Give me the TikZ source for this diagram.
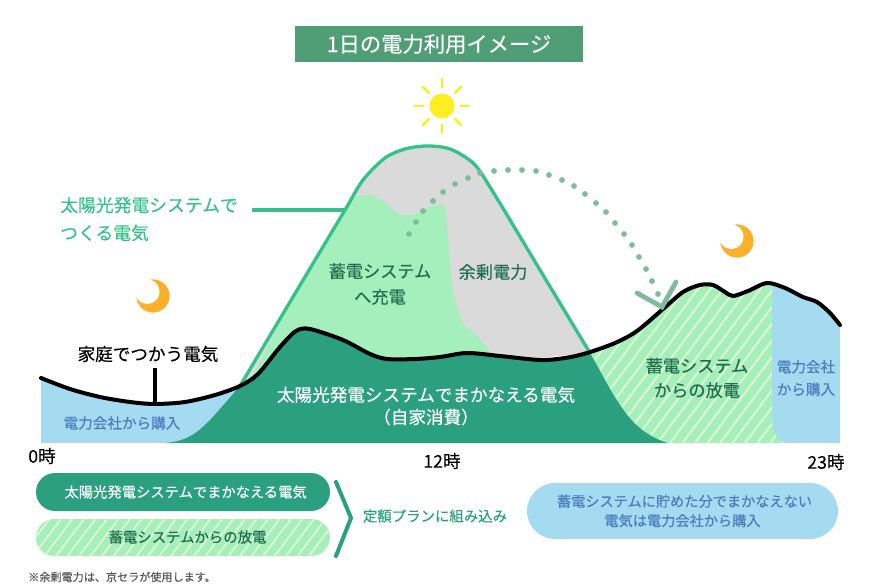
\documentclass[tikz,border=0pt]{standalone}
\usepackage{fontspec}
\setmainfont{Noto Sans CJK JP}[FakeBold=0.3]
\usetikzlibrary{calc}
\definecolor{cdark}{HTML}{2AA07F}
\definecolor{clight}{HTML}{A5EFBD}
\definecolor{cstripe}{HTML}{DDF7C8}
\definecolor{cblue}{HTML}{A5DBF0}
\definecolor{cgray}{HTML}{DADADA}
\definecolor{cline}{HTML}{35C28A}
\definecolor{ctitle}{HTML}{4F9E75}
\definecolor{cdot}{HTML}{7FBC9A}
\definecolor{ctxtg}{HTML}{1E6E50}
\definecolor{ctxtb}{HTML}{4A7CBE}
\definecolor{cmoon}{HTML}{FBB02A}
\definecolor{csun}{HTML}{FCEE21}
\newcommand{\px}[1]{\fontsize{\fpeval{#1*0.75}}{\fpeval{#1*0.95}}\selectfont}
\tikzset{
 lbl/.style={inner sep=0pt,align=center},
 chart/.style={lbl,font=\px{17.6}},
 small/.style={lbl,font=\px{14.6}},
 ray/.style={csun,line width=2.6*0.75pt,line cap=round},
}
\newcommand{\demandpts}{(41,378)(70,389)(100,397)(130,402)(155,404)(185,402)(215,395)(240,386)(258,374)(280,347)(296,331)(310,329)(343,340)(370,354)(387,359)(415,359)(440,357)(467,353)(500,356)(540,360)(565,358)(587,353)(615,343)(637,331)(663,309)(683,292)(700,285)(713,285)(725,292)(733,296)(748,291)(767,283)(785,288)(803,297)(817,302)(830,313)(840,325)}
\newcommand{\mountainpts}{(240,386)(290,302)(345,210)(363,180)(385,158)(405,149)(427,146)(450,149)(473,163)(490,187)(540,270)(590,353)}
\begin{document}
\begin{tikzpicture}[x=0.75pt,y=-0.75pt]
\useasboundingbox (0,0) rectangle (879,588);
\fill[white] (0,0) rectangle (879,588);
% title
\node[fill=ctitle,minimum width=288*0.75pt,minimum height=36*0.75pt,inner sep=0pt,text=white,font=\px{21.3}] (title) at (439,44) {1日の電力利用イメージ};
% sun
\fill[csun] (442,106) circle (12.5);
\foreach \a in {0,45,...,315} \draw[ray] ($(442,106)+(\a:18.5)$) -- ($(442,106)+(\a:27)$);
% moons
\foreach \mx/\my in {153/296,737/241}{
 \fill[cmoon] (\mx,\my) circle (16.6);
 \fill[white] (\mx-5.7,\my-4.3) circle (12.3);
}
% mountain
\fill[cgray] plot[smooth,tension=.5] coordinates {\mountainpts} -- cycle;
\begin{scope}
\clip plot[smooth,tension=.5] coordinates {\mountainpts} -- cycle;
\fill[clight] (240,400) -- (340,205) -- plot[smooth,tension=.5] coordinates {(345,200)(358,196)(370,195)(383,201)(397,213)(413,215)(428,208)(440,205)(445,208)(448,235)(450,263)(453,290)(457,307)(464,325)(473,332)(483,343)(490,353)(495,380)} -- cycle;
\end{scope}
% under the demand curve
\begin{scope}
\clip (41,443) -- plot[smooth,tension=.5] coordinates {\demandpts} -- (840,443) -- cycle;
\fill[cblue] (41,300) rectangle (260,443);
\fill[clight] (560,270) rectangle (790,443);
\begin{scope}
\clip (560,270) rectangle (790,443);
\foreach \k in {0,1,...,30}
 \draw[cstripe,line width=1.5pt] (470+12.5*\k,443) -- ++(135,-180);
\end{scope}
\fill[cblue] (772,270) -- (772,418) .. controls (772,432) and (778,443) .. (790,443) -- (840,443) -- (840,270) -- cycle;
\fill[cdark] (165,443) .. controls (190,441) and (200,430) .. (212,418) -- (240,386) -- (260,300) -- (585,300) -- (590,353) .. controls (600,370) and (612,395) .. (625,412) .. controls (635,426) and (650,438) .. (668,443) -- cycle;
\end{scope}
% outlines
\draw[cline,line width=2.5pt,line join=round] plot[smooth,tension=.5] coordinates {\mountainpts};
\coordinate (mleft) at (345,210);
\coordinate (lblend) at (252,210);
\draw[cline,line width=2.5pt] (lblend) -- (mleft);
\draw[black,line width=3pt,line cap=round] plot[smooth,tension=.5] coordinates {\demandpts};
\coordinate (demTop) at (155,368);
\coordinate (demBot) at (155,404);
\draw[black,line width=3pt] (demTop) -- (demBot);
% dotted arc
\foreach \dx/\dy in {409/234,416/222,423/211,433/201,443/192,455/184,468/178,480/173,494/171,508/170,522/170,536/171,549/175,562/180,574/186,585/194,596/203,606/212,615/223,624/234,632/245,639/257,646/269,652/281,658/294}
 \fill[cdot] (\dx,\dy) circle (2.9);
\draw[cdot,line width=3.6pt,line cap=round,line join=miter] (637,293) -- (662,307) -- (676,282);
% labels
\node[lbl,text=cline,font=\px{17.8},align=left,anchor=west] (solar) at (60,219) {太陽光発電システムで\\[4pt]つくる電気};
\node[lbl,font=\px{17.6},text=black] (home) at (148,354) {家庭でつかう電気};
\node[small,text=ctxtb] (buy1) at (122,423) {電力会社から購入};
\node[lbl,font=\px{17.2},text=ctxtg] (charge) at (380,284) {蓄電システム\\[3pt]へ充電};
\node[lbl,font=\px{17.2},text=ctxtg] (surplus) at (493,272) {余剰電力};
\node[chart,text=white] (self) at (426,406) {太陽光発電システムでまかなえる電気\\（自家消費）};
\node[lbl,font=\px{17.2},text=ctxtg] (disch) at (697,378) {蓄電システム\\[2pt]からの放電};
\node[small,text=ctxtb] (buy2) at (806,378) {電力会社\\[3pt]から購入};
% axis
\node[lbl,font=\px{17.6},text=black] (t0) at (42,456) {0時};
\node[lbl,font=\px{17.6},text=black] (t12) at (442,461) {12時};
\node[lbl,font=\px{17.6},text=black] (t23) at (826,462) {23時};
% legend
\node[fill=cdark,rounded corners=19*0.75pt,minimum width=294*0.75pt,minimum height=38*0.75pt,inner sep=0pt,text=white,font=\px{14.3}] (p1) at (183,492) {\hspace*{4pt}太陽光発電システムでまかなえる電気};
\begin{scope}
\path[clip,rounded corners=18.5*0.75pt] (36,519) rectangle (330,556);
\fill[clight] (36,519) rectangle (330,556);
\foreach \k in {0,1,...,28}
 \draw[cstripe,line width=1.4pt] (10+11.5*\k,556) -- ++(28,-37);
\end{scope}
\node[lbl,font=\px{14.4},text=ctxtg] (p2) at (187.5,537) {蓄電システムからの放電};
\coordinate (b1) at (336,482);
\coordinate (b2) at (351,518);
\coordinate (b3) at (336,556);
\draw[cdark,line width=3pt,line cap=round,line join=miter] (b1) -- (b2) -- (b3);
\node[lbl,font=\px{14.4},text=cdark] (plan) at (435,516) {定額プランに組み込み};
\node[fill=cblue,rounded corners=28*0.75pt,minimum width=311*0.75pt,minimum height=56*0.75pt,inner sep=0pt,text=ctxtb,font=\px{14.2},align=center] (p3) at (682.5,511) {\hspace*{3pt}蓄電システムに貯めた分でまかなえない\\[1pt]電気は電力会社から購入};
\node[lbl,font=\px{11.1},text=black!65,anchor=west] (note) at (28,577) {※余剰電力は、京セラが使用します。};
\end{tikzpicture}
\end{document}
